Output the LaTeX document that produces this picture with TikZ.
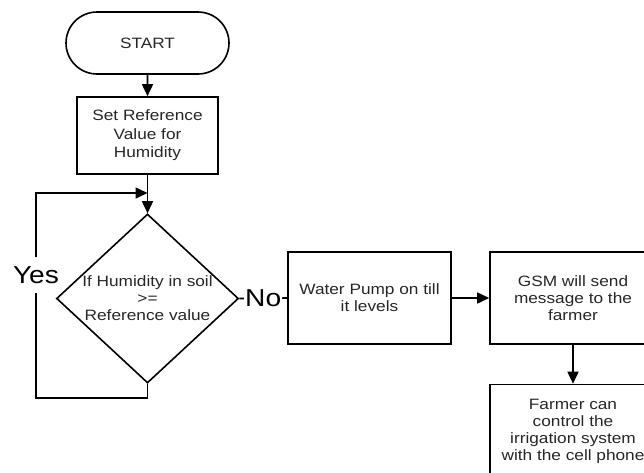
\documentclass[tikz,border=0pt]{standalone}
\usepackage{fontspec}
\setmainfont{Liberation Sans}[FakeStretch=1.15]
\usetikzlibrary{shapes.geometric,shapes.misc,arrows.meta}
\begin{document}
\begin{tikzpicture}[x=1pt,y=-1pt,
  box/.style={draw, rectangle, line width=1.6pt, align=center,
    font=\fontsize{15}{17}\selectfont, text=black!85, inner sep=0pt},
  txt/.style={align=center, font=\fontsize{15}{17}\selectfont, text=black!85, inner sep=0pt},
  arr/.style={line width=1.6pt, -{Triangle[length=12pt,width=11pt]}},
  conn/.style={line width=1.6pt},
  lbl/.style={font=\fontsize{24.5}{26}\selectfont, fill=white, inner xsep=1pt, inner ysep=2pt}]
\useasboundingbox (0,0) rectangle (644,472);
\clip (0,0) rectangle (644,472);
\node[box, rounded rectangle, minimum width=163pt, minimum height=62pt] (start) at (147.5,43) {START};
\node[box, minimum width=141pt, minimum height=77pt, font=\fontsize{15}{18.5}\selectfont] (set) at (147.5,135.5) {Set Reference\\Value for\\Humidity};
\node[draw, diamond, line width=1.6pt, minimum width=182pt, minimum height=169pt, inner sep=0pt] (dec) at (147.5,298.5) {};
\node[txt] (dectext) at (dec.center) {If Humidity in soil\\>=\\Reference value};
\node[box, minimum width=163pt, minimum height=92pt] (pump) at (369.5,298) {Water Pump on till\\it levels};
\node[box, minimum width=166pt, minimum height=92pt] (gsm) at (573,298) {GSM will send\\message to the\\farmer};
\node[box, minimum width=166pt, minimum height=91pt, text depth=0pt] (farmer) at (573,430) {Farmer can\\control the\\irrigation system\\with the cell phone};
\coordinate (j) at (147.5,193);
\coordinate (lb) at (36,398);
\coordinate (lt) at (36,193);
\draw[arr] (start) -- (set);
\draw[arr] (set) -- (dec.north);
\draw[arr] (dec.south) |- (lb) -- node[lbl, pos=0.6, inner ysep=9pt]{Yes} (lt) -- (j);
\draw[conn] (dec.east) -- node[lbl]{No} (pump.west);
\draw[arr] (pump) -- (gsm);
\draw[arr] (gsm) -- (farmer);
\end{tikzpicture}
\end{document}
